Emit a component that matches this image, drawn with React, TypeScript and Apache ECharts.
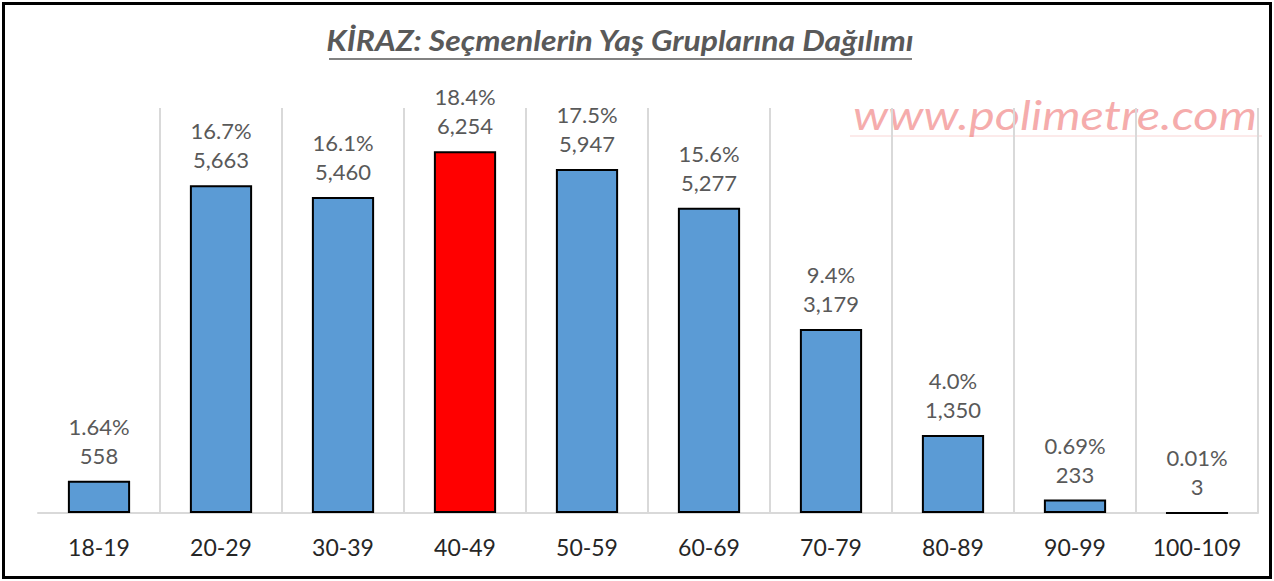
import React, { useEffect, useRef } from "react";
import * as echarts from "echarts";

const categories = ["18-19", "20-29", "30-39", "40-49", "50-59", "60-69", "70-79", "80-89", "90-99", "100-109"];
const voterCounts = [558, 5663, 5460, 6254, 5947, 5277, 3179, 1350, 233, 3];
const percentLabels = ["1.64%", "16.7%", "16.1%", "18.4%", "17.5%", "15.6%", "9.4%", "4.0%", "0.69%", "0.01%"];
const highlightIndex = 3;

const TITLE = "KİRAZ: Seçmenlerin Yaş Gruplarına Dağılımı";
const WATERMARK = "www.polimetre.com";

export default function App() {
  const ref = useRef<HTMLDivElement>(null);
  useEffect(() => {
    if (!ref.current) return;
    const chart = echarts.init(ref.current, undefined, { renderer: "svg" });
    const font = "Lato, 'Open Sans', sans-serif";
    chart.setOption({
      animation: false,
      backgroundColor: "#ffffff",
      grid: { left: 38, right: 16, top: 108, bottom: 68 },
      xAxis: {
        type: "category",
        data: categories,
        axisLine: { show: true, lineStyle: { color: "#d9d9d9", width: 2 } },
        axisTick: { show: false },
        axisLabel: { color: "#262626", fontSize: 23, fontFamily: font, margin: 22 },
        splitLine: { show: true, showMinLine: false, lineStyle: { color: "#d9d9d9", width: 2 } },
      },
      yAxis: {
        type: "value",
        min: 0,
        max: 7000,
        show: false,
        splitLine: { show: false },
      },
      series: [
        {
          type: "bar",
          barWidth: "51%",
          data: voterCounts.map((v, i) => ({
            value: v,
            itemStyle: { color: i === highlightIndex ? "#ff0000" : "#5b9bd5" },
          })),
          itemStyle: { borderColor: "#000000", borderWidth: 2 },
          label: {
            show: true,
            position: "top",
            distance: 11,
            color: "#595959",
            fontSize: 22,
            fontFamily: font,
            lineHeight: 29,
            formatter: (p: any) => `${percentLabels[p.dataIndex]}\n${voterCounts[p.dataIndex].toLocaleString("en-US")}`,
          },
        },
      ],
      graphic: [
        {
          type: "rect",
          shape: { x: 3.5, y: 3.5, width: 1267, height: 574 },
          style: { fill: "none", stroke: "#000000", lineWidth: 3 },
          silent: true,
        },
        {
          type: "text",
          x: 620,
          y: 40,
          scaleX: 1.14,
          style: {
            text: TITLE,
            fill: "#595959",
            font: `italic bold 28px ${font}`,
            textAlign: "center",
            textVerticalAlign: "middle",
          },
        },
        {
          type: "line",
          shape: { x1: 329, y1: 59, x2: 912, y2: 59 },
          style: { stroke: "#595959", lineWidth: 1.5 },
        },
        {
          type: "text",
          x: 1055,
          y: 115,
          scaleX: 1.22,
          style: {
            text: WATERMARK,
            fill: "rgba(236, 90, 90, 0.5)",
            font: `italic 40px ${font}`,
            textAlign: "center",
            textVerticalAlign: "middle",
          },
        },
        {
          type: "line",
          shape: { x1: 850, y1: 136, x2: 1262, y2: 136 },
          style: { stroke: "rgba(236, 90, 90, 0.25)", lineWidth: 1 },
        },
      ],
    });
    return () => chart.dispose();
  }, []);
  return (
    <div
      ref={ref}
      style={{ position: "fixed", left: 0, top: 0, width: 1274, height: 581 }}
    />
  );
}
